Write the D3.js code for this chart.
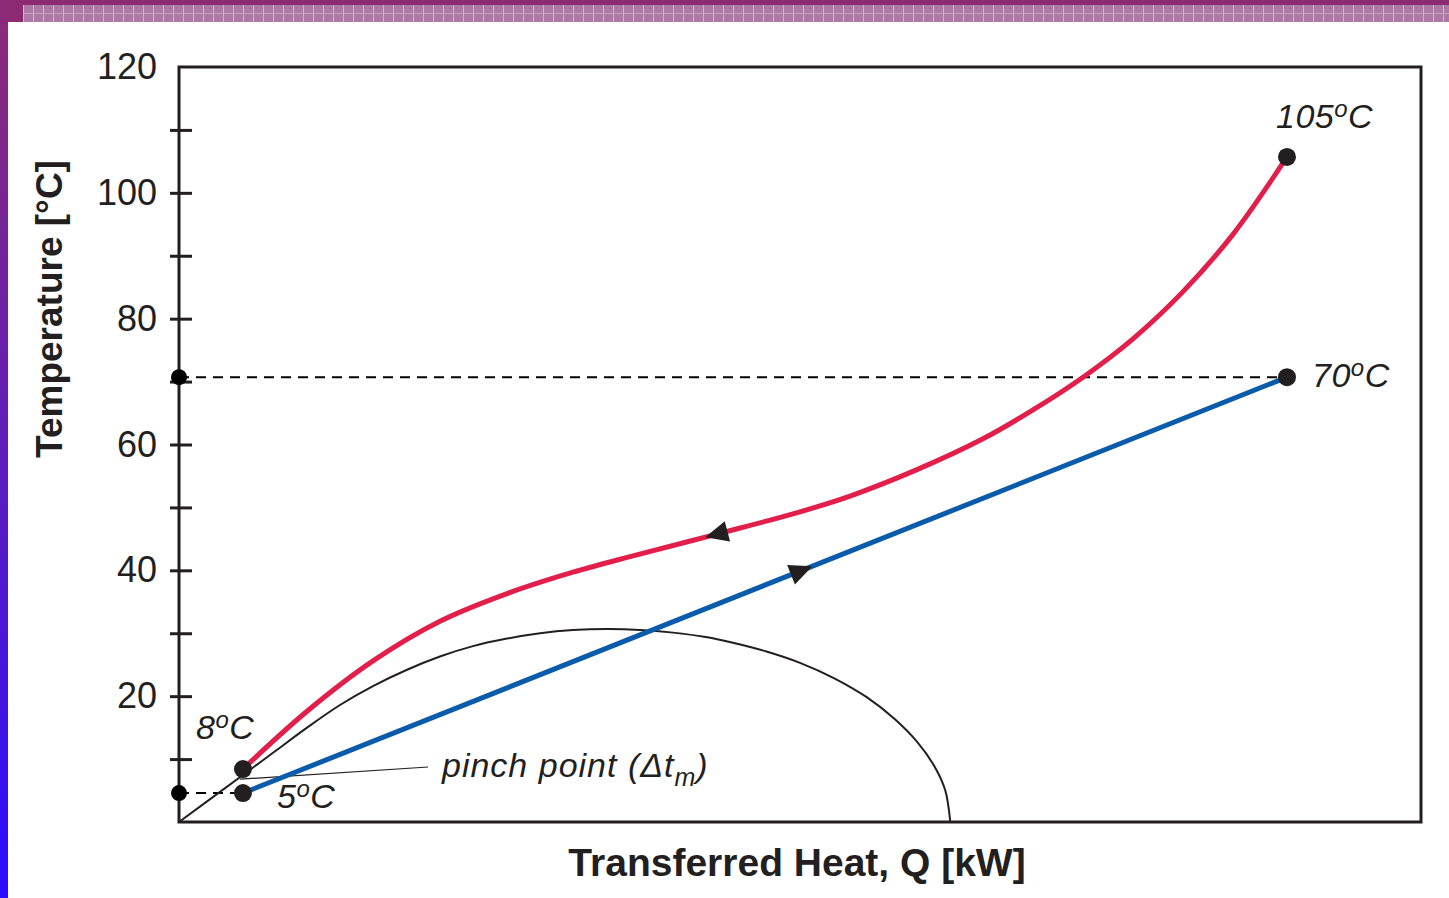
<!DOCTYPE html>
<html>
<head>
<meta charset="utf-8">
<script src="https://cdn.jsdelivr.net/npm/d3@7"></script>
<style>
  body { margin: 0; background: #fff; }
  svg { display: block; font-family: "Liberation Sans", Arial, sans-serif; }
</style>
</head>
<body>
<script>
// temperature axis ticks and labels
var yTicks = [10, 20, 30, 40, 50, 60, 70, 80, 90, 100, 110, 120];
var yLabels = [20, 40, 60, 80, 100, 120];

// hot stream (Q, T), left to right
var hotQ = [5.15, 10.31, 15.62, 21.01, 26.41, 31.72, 36.55, 43.40, 50.00, 54.03, 59.42, 64.73, 68.76, 72.79, 76.81, 80.84, 84.86, 89.21];
var hotT = [8.42, 17.6, 25.6, 31.9, 36.3, 39.7, 42.3, 45.8, 49.3, 51.8, 56.0, 60.9, 65.5, 70.7, 76.8, 84.3, 93.4, 105.7];

// cold stream
var coldQ = [5.15, 89.21];
var coldT = [4.6, 70.7];

// thin black envelope curve
var envQ = [0, 5.15, 7.57, 10.31, 12.96, 15.62, 18.36, 21.01, 23.67, 26.41, 29.07, 31.72, 34.46,
            37.12, 39.77, 42.4, 44.6, 47.3, 50.0, 52.8, 55.4, 57.6, 59.4, 60.9, 61.7, 62.1];
var envT = [0, 7.47, 11.0, 15.0, 18.6, 21.6, 24.2, 26.3, 27.95, 29.15, 30.0, 30.5, 30.67,
            30.53, 30.1, 29.4, 28.5, 27.1, 25.3, 22.8, 19.8, 16.4, 12.8, 8.6, 5.0, 0];

// pinch point leader line
var pinchQ = [4.9, 20.05];
var pinchT = [6.8, 8.74];

var width = 1449;
var height = 898;
var plotLeft = 179, plotRight = 1421, plotTop = 67, plotBottom = 822;
var red = "#e21f4a";
var blue = "#0b5bab";
var ink = "#231f20";

var x = d3.scaleLinear().domain([0, 100]).range([plotLeft, plotRight]);
var y = d3.scaleLinear().domain([0, 120]).range([plotBottom, plotTop]);

var svg = d3.select("body").append("svg")
  .attr("width", width)
  .attr("height", height);

// page decoration: top band and left strip
var defs = svg.append("defs");
var grad = defs.append("linearGradient").attr("id", "side")
  .attr("x1", 0).attr("y1", 0).attr("x2", 0).attr("y2", 1);
grad.append("stop").attr("offset", "0%").attr("stop-color", "#8e2a76");
grad.append("stop").attr("offset", "55%").attr("stop-color", "#5a1cc0");
grad.append("stop").attr("offset", "100%").attr("stop-color", "#2a0cff");

var pat = defs.append("pattern").attr("id", "band")
  .attr("patternUnits", "userSpaceOnUse")
  .attr("width", 10).attr("height", 9).attr("x", 23).attr("y", 5);
pat.append("rect").attr("width", 10).attr("height", 9).attr("fill", "#ad79a5");
pat.append("rect").attr("x", 0).attr("width", 1).attr("height", 9).attr("fill", "#d3b6cd");
pat.append("rect").attr("y", 8).attr("width", 10).attr("height", 1).attr("fill", "#c5a2c0");

svg.append("rect").attr("x", 0).attr("y", 0).attr("width", width).attr("height", 5).attr("fill", "#8c2a72");
svg.append("rect").attr("x", 23).attr("y", 5).attr("width", width - 23).attr("height", 17).attr("fill", "url(#band)");
svg.append("rect").attr("x", 0).attr("y", 0).attr("width", 23).attr("height", 22).attr("fill", "#8c2a74");
svg.append("rect").attr("x", 0).attr("y", 0).attr("width", 8).attr("height", height).attr("fill", "url(#side)");

// y axis ticks crossing the frame
var yAxis = d3.axisLeft(y)
  .tickValues(yTicks)
  .tickSize(9)
  .tickFormat(function(d) { return yLabels.indexOf(d) >= 0 ? d : ""; });

var gy = svg.append("g")
  .attr("transform", "translate(" + plotLeft + ",0)")
  .call(yAxis);
gy.select(".domain").remove();
gy.selectAll(".tick line")
  .attr("x1", -9).attr("x2", 13)
  .attr("stroke", ink).attr("stroke-width", 3)
  .attr("display", function(d) { return d === 120 ? "none" : null; });
gy.selectAll(".tick text")
  .attr("x", -22)
  .attr("font-size", 36)
  .attr("font-family", "'Liberation Sans', Arial, sans-serif")
  .attr("fill", ink);

// axis titles
svg.append("text")
  .attr("transform", "translate(62," + 309 + ") rotate(-90)")
  .attr("text-anchor", "middle")
  .attr("font-size", 37)
  .attr("font-weight", "bold")
  .attr("fill", ink)
  .text("Temperature [°C]");

svg.append("text")
  .attr("x", 797).attr("y", 876)
  .attr("text-anchor", "middle")
  .attr("font-size", 39)
  .attr("font-weight", "bold")
  .attr("fill", ink)
  .text("Transferred Heat, Q [kW]");

function pts(qs, ts) {
  return qs.map(function(q, i) { return [q, ts[i]]; });
}

var line = d3.line()
  .x(function(d) { return x(d[0]); })
  .y(function(d) { return y(d[1]); })
  .curve(d3.curveCatmullRom.alpha(0.5));

var plainLine = d3.line()
  .x(function(d) { return x(d[0]); })
  .y(function(d) { return y(d[1]); });

// dashed guides to the axis
svg.append("line")
  .attr("x1", x(0)).attr("x2", x(coldQ[1]))
  .attr("y1", y(coldT[1])).attr("y2", y(coldT[1]))
  .attr("stroke", "#000").attr("stroke-width", 2).attr("stroke-dasharray", "10,7");
svg.append("line")
  .attr("x1", x(0)).attr("x2", x(coldQ[0]))
  .attr("y1", y(coldT[0])).attr("y2", y(coldT[0]))
  .attr("stroke", "#000").attr("stroke-width", 2).attr("stroke-dasharray", "10,7");

// envelope curve
svg.append("path")
  .attr("d", line(pts(envQ, envT)))
  .attr("fill", "none").attr("stroke", ink).attr("stroke-width", 2);

// pinch leader
svg.append("path")
  .attr("d", plainLine(pts(pinchQ, pinchT)))
  .attr("fill", "none").attr("stroke", ink).attr("stroke-width", 1.2);

var hotPath = svg.append("path")
  .attr("d", line(pts(hotQ, hotT)))
  .attr("fill", "none").attr("stroke", red).attr("stroke-width", 5);

var coldPath = svg.append("path")
  .attr("d", plainLine(pts(coldQ, coldT)))
  .attr("fill", "none").attr("stroke", blue).attr("stroke-width", 5);

// frame
svg.append("rect")
  .attr("x", plotLeft).attr("y", plotTop)
  .attr("width", plotRight - plotLeft).attr("height", plotBottom - plotTop)
  .attr("fill", "none").attr("stroke", ink).attr("stroke-width", 3);

// direction arrows placed on the paths
function arrowOn(pathNode, q, dir) {
  var px = x(q);
  var total = pathNode.getTotalLength();
  var lo = 0, hi = total;
  for (var k = 0; k < 40; k++) {
    var mid = (lo + hi) / 2;
    if (pathNode.getPointAtLength(mid).x < px) lo = mid; else hi = mid;
  }
  var p = pathNode.getPointAtLength(lo);
  var a = pathNode.getPointAtLength(Math.max(0, lo - 3));
  var b = pathNode.getPointAtLength(Math.min(total, lo + 3));
  var ang = Math.atan2(b.y - a.y, b.x - a.x) * 180 / Math.PI + (dir < 0 ? 180 : 0);
  svg.append("path")
    .attr("d", "M12,0 L-11,-10.5 L-11,10.5 Z")
    .attr("transform", "translate(" + p.x + "," + p.y + ") rotate(" + ang + ")")
    .attr("fill", ink);
}
arrowOn(hotPath.node(), 43.3, -1);
arrowOn(coldPath.node(), 50.1, 1);

// end point markers
var dots = [
  [hotQ[0], hotT[0]],
  [hotQ[hotQ.length - 1], hotT[hotT.length - 1]],
  [coldQ[0], coldT[0]],
  [coldQ[1], coldT[1]]
];
svg.selectAll("circle.end")
  .data(dots)
  .enter()
  .append("circle")
  .attr("class", "end")
  .attr("cx", function(d) { return x(d[0]); })
  .attr("cy", function(d) { return y(d[1]); })
  .attr("r", 9)
  .attr("fill", ink);

svg.selectAll("circle.axis")
  .data([coldT[0], coldT[1]])
  .enter()
  .append("circle")
  .attr("class", "axis")
  .attr("cx", x(0))
  .attr("cy", function(d) { return y(d); })
  .attr("r", 8)
  .attr("fill", "#000");

// temperature labels with raised "o"
function degLabel(px, py, num) {
  var t = svg.append("text")
    .attr("x", px).attr("y", py)
    .attr("font-size", 34)
    .attr("font-style", "italic")
    .attr("letter-spacing", 0.5)
    .attr("fill", ink);
  t.append("tspan").text(num);
  t.append("tspan").attr("font-size", 24).attr("dy", -11).text("o");
  t.append("tspan").attr("dy", 11).text("C");
}
degLabel(1276, 128, "105");
degLabel(1312, 387, "70");
degLabel(196, 739, "8");
degLabel(277, 808, "5");

var pinch = svg.append("text")
  .attr("x", 442).attr("y", 777)
  .attr("font-size", 34)
  .attr("font-style", "italic")
  .attr("letter-spacing", 1)
  .attr("fill", ink);
pinch.append("tspan").text("pinch point (\u0394t");
pinch.append("tspan").attr("font-size", 25).attr("dy", 9).text("m");
pinch.append("tspan").attr("dy", -9).text(")");
</script>
</body>
</html>
